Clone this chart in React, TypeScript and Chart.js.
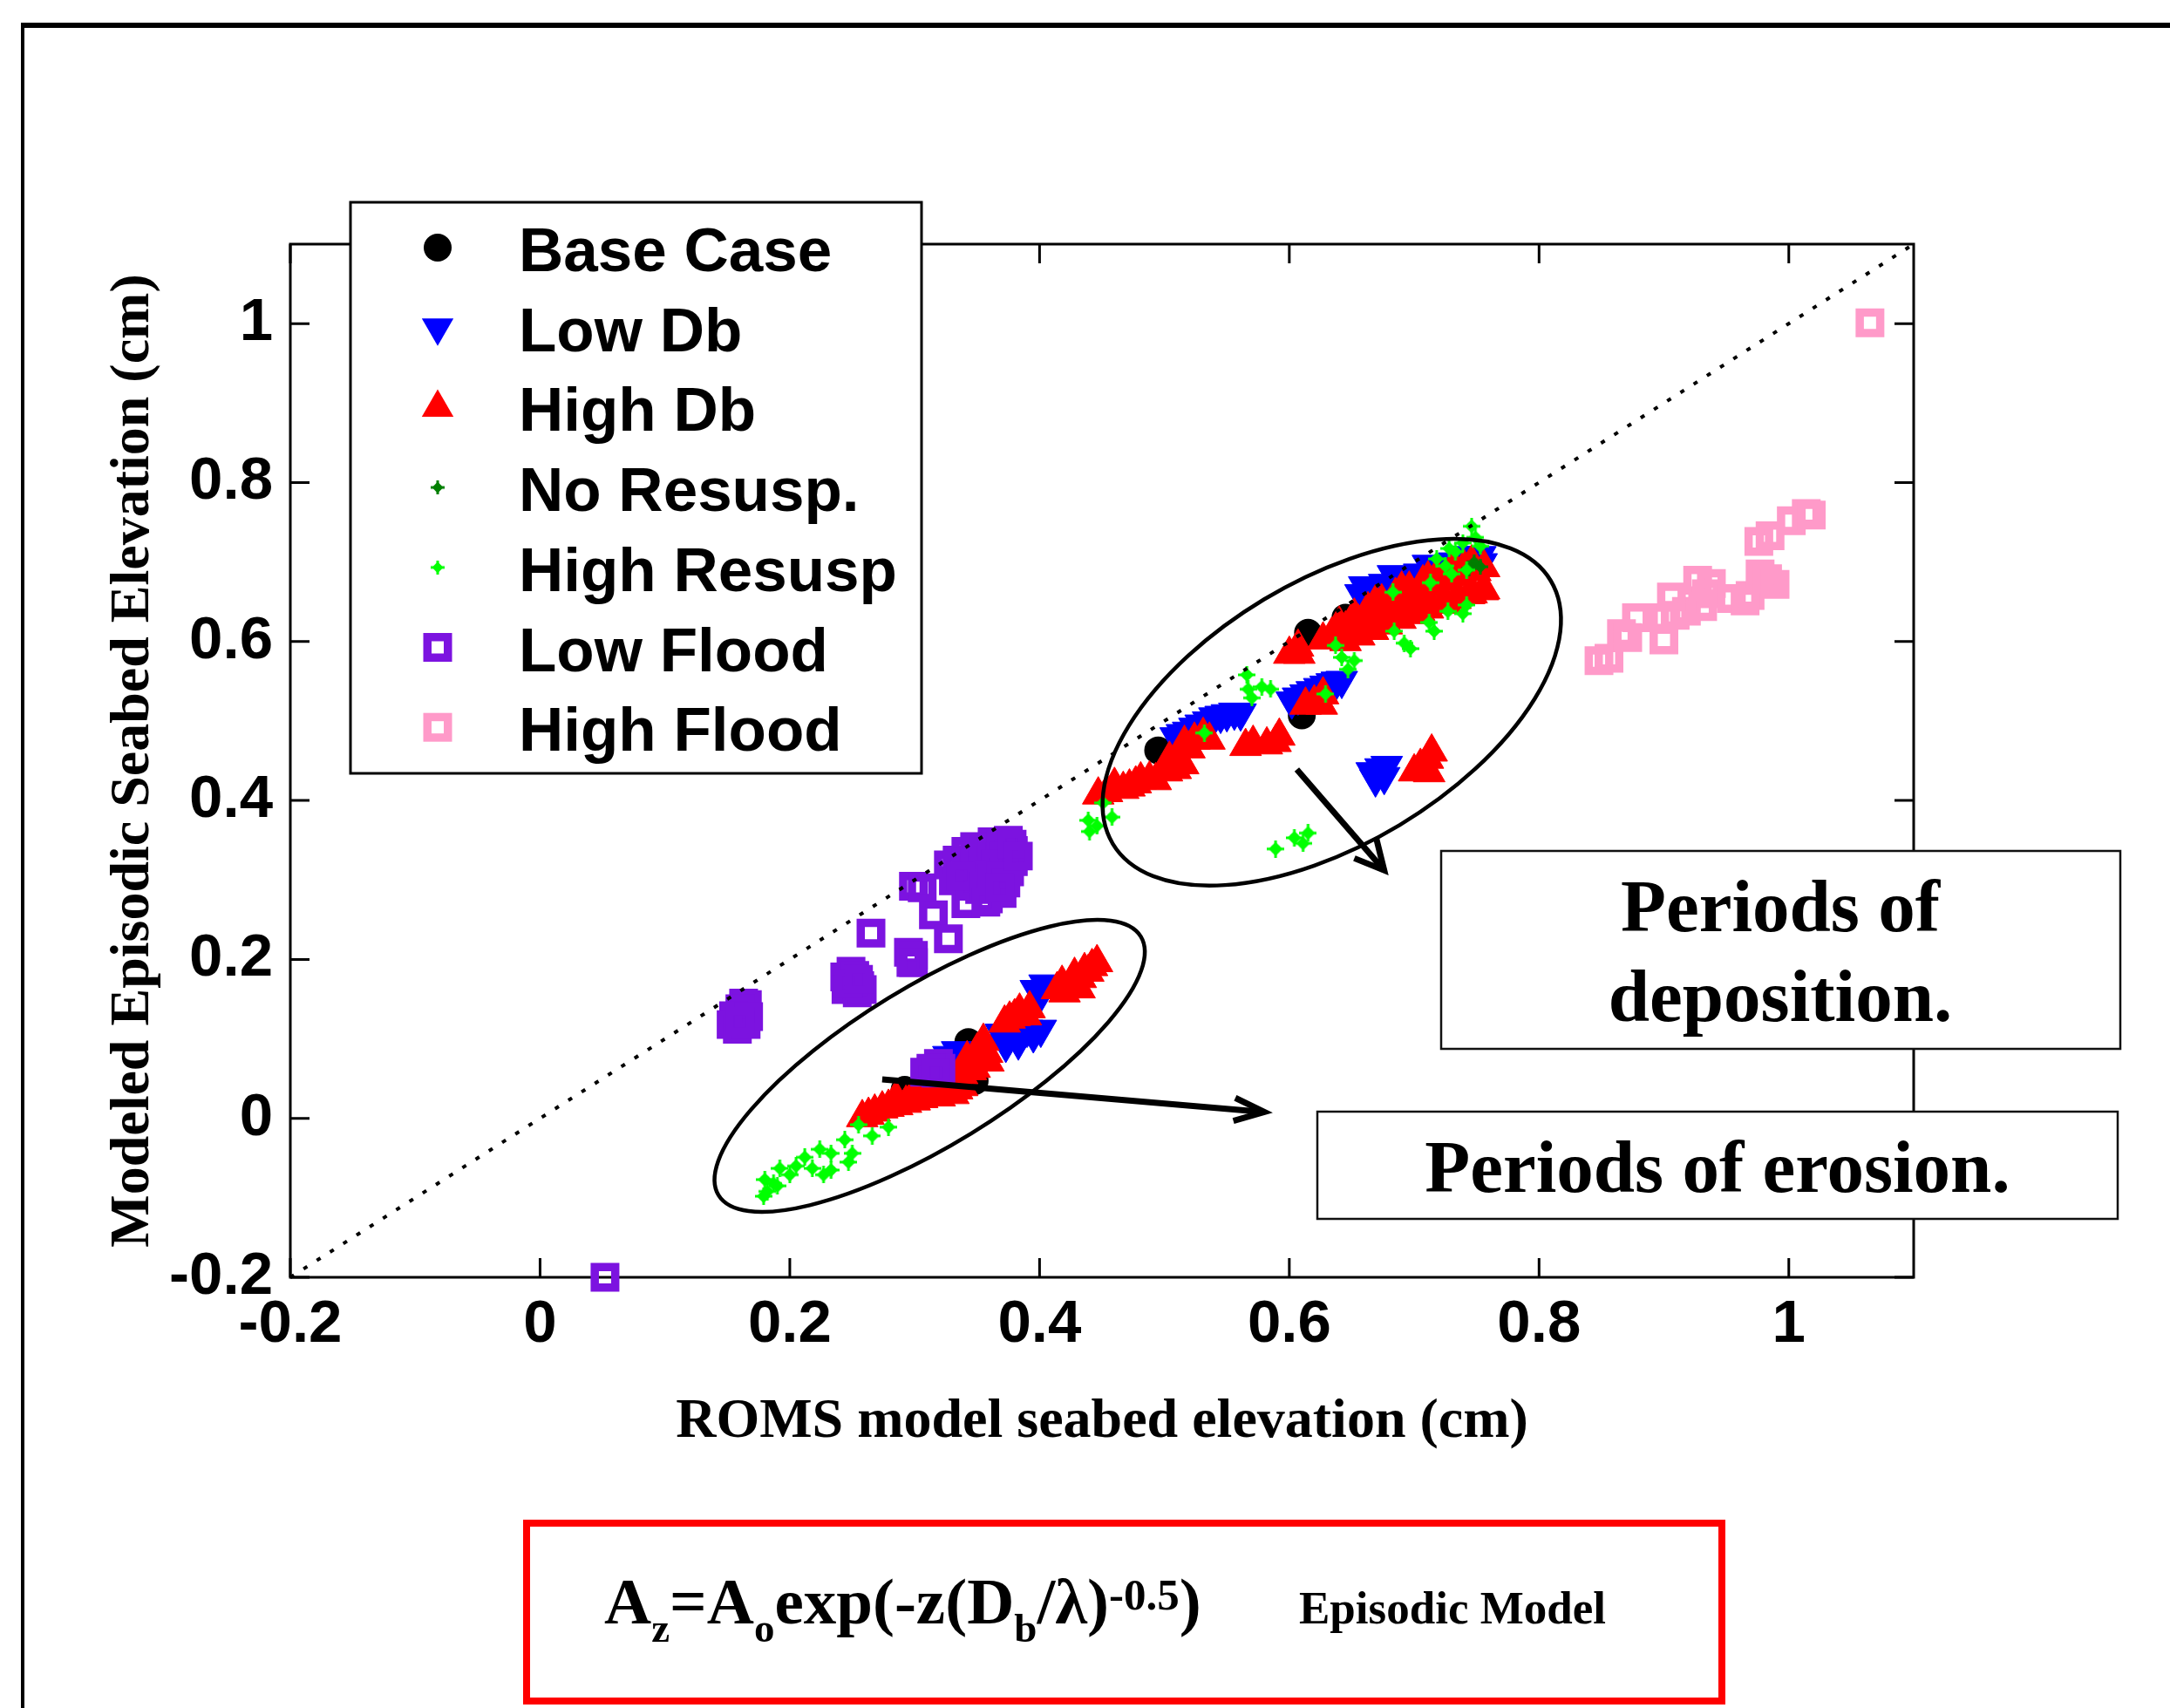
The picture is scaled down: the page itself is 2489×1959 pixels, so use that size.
import React, { useEffect, useRef } from "react";
import { Chart, registerables } from "chart.js";

Chart.register(...registerables);

type P = [number, number];

// ---------- axis ranges / ticks ----------
const X_RANGE: P = [-0.2, 1.1];
const Y_RANGE: P = [-0.2, 1.1];
const TICK_STEP = 0.2;

const xTitle = "ROMS model seabed elevation (cm)";
const yTitle = "Modeled Episodic Seabed Elevation (cm)";

const seriesNames = ["Base Case", "Low Db", "High Db", "No Resusp.", "High Resusp", "Low Flood", "High Flood"];

// ---------- data (x = ROMS, y = Episodic) ----------
const baseCase: P[] = [
  [0.615, 0.611], [0.610, 0.507], [0.495, 0.463], [0.645, 0.630],
  [0.343, 0.096], [0.292, 0.036], [0.348, 0.047], [0.303, 0.036],
];

const lowDb: P[] = [
  [0.657, 0.660], [0.660, 0.670], [0.665, 0.665], [0.676, 0.673], [0.683, 0.684], [0.690, 0.680],
  [0.704, 0.686], [0.711, 0.697], [0.718, 0.693], [0.732, 0.700], [0.739, 0.708], [0.746, 0.704],
  [0.753, 0.708], [0.754, 0.699],
  [0.509, 0.480], [0.514, 0.484], [0.519, 0.487], [0.524, 0.492], [0.529, 0.496], [0.535, 0.500],
  [0.540, 0.505], [0.545, 0.507], [0.550, 0.509], [0.556, 0.511], [0.561, 0.510],
  [0.602, 0.525], [0.607, 0.530], [0.613, 0.534], [0.618, 0.538], [0.624, 0.542], [0.629, 0.545],
  [0.634, 0.548], [0.638, 0.550], [0.642, 0.551],
  [0.666, 0.436], [0.673, 0.441], [0.678, 0.444], [0.669, 0.427], [0.676, 0.430],
  [0.369, 0.107], [0.376, 0.102], [0.380, 0.110], [0.390, 0.112], [0.395, 0.105], [0.401, 0.112],
  [0.383, 0.096], [0.373, 0.093], [0.397, 0.162], [0.404, 0.169], [0.401, 0.156], [0.327, 0.079],
  [0.334, 0.085],
];

const highDb: P[] = [
  [0.447, 0.407], [0.454, 0.410], [0.460, 0.419], [0.467, 0.414], [0.472, 0.417], [0.477, 0.421],
  [0.481, 0.426], [0.488, 0.427], [0.493, 0.425], [0.502, 0.436], [0.505, 0.440], [0.509, 0.439],
  [0.504, 0.452], [0.515, 0.445],
  [0.516, 0.472], [0.520, 0.465], [0.524, 0.476], [0.531, 0.482], [0.536, 0.476],
  [0.565, 0.468], [0.571, 0.472], [0.582, 0.470], [0.589, 0.473], [0.592, 0.481],
  [0.613, 0.520], [0.620, 0.523], [0.627, 0.533], [0.626, 0.520],
  [0.600, 0.584], [0.607, 0.593], [0.608, 0.584],
  [0.627, 0.602], [0.634, 0.608], [0.645, 0.616], [0.655, 0.625], [0.666, 0.633], [0.676, 0.640],
  [0.686, 0.649], [0.697, 0.656], [0.707, 0.662], [0.718, 0.669], [0.728, 0.676], [0.739, 0.682],
  [0.749, 0.688], [0.756, 0.693],
  [0.640, 0.622], [0.652, 0.632], [0.663, 0.640], [0.674, 0.650], [0.685, 0.658], [0.696, 0.666],
  [0.707, 0.674], [0.718, 0.682], [0.729, 0.688], [0.740, 0.693],
  [0.645, 0.600], [0.656, 0.607], [0.667, 0.614], [0.678, 0.621], [0.689, 0.628], [0.700, 0.634],
  [0.711, 0.641], [0.722, 0.647], [0.733, 0.653], [0.744, 0.659], [0.755, 0.664],
  [0.683, 0.633], [0.704, 0.638], [0.725, 0.649], [0.746, 0.660], [0.756, 0.665], [0.666, 0.616],
  [0.669, 0.649], [0.690, 0.666], [0.711, 0.679], [0.732, 0.693], [0.746, 0.699],
  [0.700, 0.436], [0.705, 0.443], [0.711, 0.452], [0.714, 0.461], [0.712, 0.435],
  [0.414, 0.162], [0.418, 0.170], [0.420, 0.158], [0.425, 0.167], [0.428, 0.180], [0.432, 0.163],
  [0.433, 0.176], [0.436, 0.186], [0.439, 0.184], [0.442, 0.191], [0.446, 0.196],
  [0.372, 0.120], [0.376, 0.125], [0.380, 0.128], [0.384, 0.135], [0.389, 0.129], [0.392, 0.138],
  [0.338, 0.055], [0.342, 0.075], [0.345, 0.060], [0.348, 0.063], [0.350, 0.085], [0.352, 0.077],
  [0.354, 0.090], [0.355, 0.097], [0.358, 0.082], [0.359, 0.071],
  [0.258, 0.001], [0.263, 0.004], [0.268, 0.008], [0.274, 0.012], [0.279, 0.014], [0.285, 0.025],
  [0.286, 0.016], [0.293, 0.019], [0.300, 0.022], [0.306, 0.025], [0.312, 0.028], [0.320, 0.027],
  [0.326, 0.032], [0.331, 0.030], [0.334, 0.036], [0.338, 0.040], [0.313, 0.036], [0.299, 0.030],
];

const noResusp: P[] = [
  [0.748, 0.700], [0.753, 0.694], [0.744, 0.692],
];

const highResusp: P[] = [
  [0.746, 0.745], [0.749, 0.731], [0.739, 0.724], [0.728, 0.717], [0.753, 0.720], [0.718, 0.704],
  [0.725, 0.695], [0.733, 0.713], [0.683, 0.662], [0.713, 0.674], [0.730, 0.685], [0.742, 0.690],
  [0.727, 0.638], [0.742, 0.646], [0.739, 0.635], [0.712, 0.624], [0.716, 0.613], [0.684, 0.613],
  [0.692, 0.598], [0.697, 0.591], [0.637, 0.595], [0.642, 0.580], [0.652, 0.576], [0.647, 0.565],
  [0.629, 0.534], [0.566, 0.558], [0.567, 0.540], [0.578, 0.543], [0.585, 0.540], [0.570, 0.529],
  [0.532, 0.485], [0.439, 0.375], [0.440, 0.361], [0.451, 0.397], [0.458, 0.379], [0.446, 0.368],
  [0.589, 0.339], [0.604, 0.353], [0.615, 0.359], [0.611, 0.346],
  [0.255, -0.008], [0.266, -0.022], [0.279, -0.011], [0.244, -0.027], [0.250, -0.044], [0.247, -0.055],
  [0.233, -0.044], [0.224, -0.039], [0.212, -0.049], [0.205, -0.060], [0.218, -0.063], [0.227, -0.071],
  [0.233, -0.065], [0.200, -0.071], [0.192, -0.063], [0.187, -0.082], [0.180, -0.077], [0.182, -0.092],
  [0.179, -0.098], [0.190, -0.085],
];

const lowFlood: P[] = [
  [0.163, 0.145], [0.166, 0.143], [0.160, 0.138], [0.155, 0.129], [0.153, 0.118], [0.158, 0.112],
  [0.165, 0.118], [0.167, 0.128], [0.160, 0.122],
  [0.249, 0.185], [0.244, 0.178], [0.245, 0.162], [0.254, 0.158], [0.258, 0.162], [0.256, 0.167],
  [0.250, 0.172], [0.252, 0.180], [0.247, 0.170], [0.255, 0.175],
  [0.265, 0.233],
  [0.295, 0.209], [0.299, 0.205], [0.297, 0.196], [0.299, 0.196],
  [0.315, 0.256], [0.327, 0.226], [0.299, 0.292], [0.306, 0.290],
  [0.375, 0.350], [0.362, 0.348], [0.348, 0.342], [0.341, 0.336], [0.327, 0.319], [0.334, 0.315],
  [0.355, 0.326], [0.369, 0.331], [0.379, 0.323], [0.379, 0.337], [0.341, 0.270], [0.352, 0.288],
  [0.359, 0.276], [0.366, 0.299], [0.370, 0.283], [0.331, 0.299], [0.348, 0.310], [0.362, 0.315],
  [0.376, 0.310],
  [0.334, 0.325], [0.341, 0.322], [0.348, 0.330], [0.355, 0.336], [0.362, 0.340], [0.369, 0.344],
  [0.372, 0.330], [0.365, 0.320], [0.358, 0.306], [0.351, 0.302], [0.344, 0.292], [0.337, 0.305],
  [0.355, 0.292], [0.362, 0.302], [0.369, 0.305], [0.373, 0.296], [0.357, 0.272], [0.368, 0.290],
  [0.378, 0.345], [0.383, 0.330],
  [0.319, 0.069], [0.321, 0.063], [0.313, 0.063], [0.308, 0.058], [0.317, 0.057],
  [0.052, -0.200],
];

const highFlood: P[] = [
  [0.848, 0.576], [0.856, 0.579], [0.866, 0.610], [0.871, 0.605], [0.878, 0.630], [0.900, 0.602],
  [0.900, 0.630], [0.909, 0.633], [0.918, 0.638], [0.906, 0.656], [0.927, 0.677], [0.938, 0.673],
  [0.934, 0.660], [0.931, 0.644], [0.954, 0.654], [0.969, 0.658], [0.965, 0.651], [0.977, 0.685],
  [0.983, 0.679], [0.989, 0.672], [0.976, 0.726], [0.985, 0.733], [1.002, 0.752], [1.014, 0.761],
  [1.018, 0.759], [1.065, 1.001],
];

const identityLine: P[] = [[-0.2, -0.2], [1.1, 1.1]];

// ---------- annotation text ----------
const depositionLines = ["Periods of", "deposition."];
const erosionText = "Periods of erosion.";
const modelName = "Episodic Model";

// ---------- styles ----------
const SERIF = '"Liberation Serif", "Times New Roman", serif';
const SANS = '"Liberation Sans", Arial, sans-serif';
const C_BLACK = "#000000";
const C_BLUE = "#0000ff";
const C_RED = "#ff0000";
const C_DKGREEN = "#007f00";
const C_GREEN = "#00ff00";
const C_PURPLE = "#7c13e0";
const C_PINK = "#ff9ac9";

function makeDot(color: string, size: number): HTMLCanvasElement {
  const c = document.createElement("canvas");
  c.width = size;
  c.height = size;
  const g = c.getContext("2d")!;
  const m = size / 2;
  const r = size * 0.4;
  g.fillStyle = color;
  g.beginPath();
  g.moveTo(m, m - r);
  g.lineTo(m + r, m);
  g.lineTo(m, m + r);
  g.lineTo(m - r, m);
  g.closePath();
  g.fill();
  g.beginPath();
  g.arc(m, m, size * 0.27, 0, Math.PI * 2);
  g.fill();
  const aw = Math.max(2, Math.round(size * 0.16));
  g.fillRect(m - aw / 2, 0, aw, size);
  g.fillRect(0, m - aw / 2, size, aw);
  return c;
}

const toPts = (a: P[]) => a.map(([x, y]) => ({ x, y }));
const fmt = (v: number) => String(Math.round(v * 10) / 10);

export default function App() {
  const ref = useRef<HTMLCanvasElement>(null);

  useEffect(() => {
    document.body.style.margin = "0";
    document.body.style.overflow = "hidden";
    const canvas = ref.current!;
    const dkDot = makeDot(C_DKGREEN, 18);
    const grDot = makeDot(C_GREEN, 20);
    const dkLeg = makeDot(C_DKGREEN, 16);
    const grLeg = makeDot(C_GREEN, 16);

    const markerKinds = ["circle", "down", "up", "dk", "gr", "sqP", "sqK"];

    const drawMarker = (ctx: CanvasRenderingContext2D, kind: string, x: number, y: number) => {
      const h = 21 * Math.sin(Math.PI / 3);
      ctx.save();
      if (kind === "circle") {
        ctx.fillStyle = C_BLACK;
        ctx.beginPath();
        ctx.arc(x, y, 16, 0, Math.PI * 2);
        ctx.fill();
      } else if (kind === "down" || kind === "up") {
        ctx.fillStyle = kind === "down" ? C_BLUE : C_RED;
        ctx.beginPath();
        if (kind === "down") {
          ctx.moveTo(x, y + 21);
          ctx.lineTo(x - h, y - 10.5);
          ctx.lineTo(x + h, y - 10.5);
        } else {
          ctx.moveTo(x, y - 21);
          ctx.lineTo(x + h, y + 10.5);
          ctx.lineTo(x - h, y + 10.5);
        }
        ctx.closePath();
        ctx.fill();
      } else if (kind === "dk" || kind === "gr") {
        const im = kind === "dk" ? dkLeg : grLeg;
        ctx.drawImage(im, x - im.width / 2, y - im.height / 2);
      } else {
        ctx.strokeStyle = kind === "sqP" ? C_PURPLE : C_PINK;
        ctx.lineWidth = 9.5;
        ctx.strokeRect(x - 11.75, y - 11.75, 23.5, 23.5);
      }
      ctx.restore();
    };

    const arrow = (ctx: CanvasRenderingContext2D, x0: number, y0: number, x1: number, y1: number, spread: number) => {
      const ang = Math.atan2(y0 - y1, x0 - x1);
      const L = 37;
      ctx.beginPath();
      ctx.moveTo(x0, y0);
      ctx.lineTo(x1, y1);
      ctx.stroke();
      ctx.beginPath();
      ctx.moveTo(x1 + L * Math.cos(ang + spread), y1 + L * Math.sin(ang + spread));
      ctx.lineTo(x1, y1);
      ctx.lineTo(x1 + L * Math.cos(ang - spread), y1 + L * Math.sin(ang - spread));
      ctx.stroke();
    };

    const decor = {
      id: "decor",
      beforeDatasetsDraw(chart: any) {
        const { ctx, chartArea: a, scales } = chart;
        const xs = scales.x;
        const ys = scales.y;
        ctx.save();
        ctx.strokeStyle = C_BLACK;
        ctx.lineWidth = 3;
        ctx.strokeRect(a.left, a.top, a.right - a.left, a.bottom - a.top);
        const TL = 22;
        ctx.beginPath();
        xs.ticks.forEach((t: any) => {
          const px = xs.getPixelForValue(t.value);
          ctx.moveTo(px, a.bottom);
          ctx.lineTo(px, a.bottom - TL);
          ctx.moveTo(px, a.top);
          ctx.lineTo(px, a.top + TL);
        });
        ys.ticks.forEach((t: any) => {
          const py = ys.getPixelForValue(t.value);
          ctx.moveTo(a.left, py);
          ctx.lineTo(a.left + TL, py);
          ctx.moveTo(a.right, py);
          ctx.lineTo(a.right - TL, py);
        });
        ctx.stroke();
        ctx.restore();
      },
      afterDraw(chart: any) {
        const { ctx, scales } = chart;
        const xs = scales.x;
        const ys = scales.y;
        const X = (v: number) => xs.getPixelForValue(v);
        const Y = (v: number) => ys.getPixelForValue(v);
        ctx.save();

        // ellipses around the two groups
        ctx.strokeStyle = C_BLACK;
        ctx.lineWidth = 4.5;
        ctx.beginPath();
        ctx.ellipse(X(0.634), Y(0.511), 293, 151, (-31 * Math.PI) / 180, 0, Math.PI * 2);
        ctx.stroke();
        ctx.beginPath();
        ctx.ellipse(X(0.312), Y(0.066), 284, 91, (-31.5 * Math.PI) / 180, 0, Math.PI * 2);
        ctx.stroke();

        // arrows
        ctx.lineWidth = 7;
        ctx.lineCap = "butt";
        ctx.lineJoin = "miter";
        arrow(ctx, X(0.606), Y(0.439), X(0.676), Y(0.312), (27 * Math.PI) / 180);
        arrow(ctx, X(0.274), Y(0.049), X(0.580), Y(0.008), (21 * Math.PI) / 180);

        // annotation boxes
        ctx.fillStyle = "#ffffff";
        ctx.strokeStyle = "#111111";
        ctx.lineWidth = 2.5;
        ctx.fillRect(1653, 976, 779, 227);
        ctx.strokeRect(1653, 976, 779, 227);
        ctx.fillRect(1511, 1275, 918, 123);
        ctx.strokeRect(1511, 1275, 918, 123);
        ctx.fillStyle = C_BLACK;
        ctx.font = `bold 85px ${SERIF}`;
        ctx.textAlign = "center";
        ctx.textBaseline = "alphabetic";
        ctx.fillText(depositionLines[0], 2042, 1068);
        ctx.fillText(depositionLines[1], 2042, 1171);
        ctx.fillText(erosionText, 1970, 1367);

        // legend
        ctx.fillStyle = "#ffffff";
        ctx.fillRect(402, 232, 655, 655);
        ctx.strokeStyle = C_BLACK;
        ctx.lineWidth = 3;
        ctx.strokeRect(402, 232, 655, 655);
        ctx.textAlign = "left";
        ctx.font = `bold 71px ${SANS}`;
        seriesNames.forEach((name, i) => {
          const ry = 284 + i * 91.7;
          drawMarker(ctx, markerKinds[i], 502, ry);
          ctx.fillStyle = C_BLACK;
          ctx.fillText(name, 595, ry + 27);
        });

        // outer frame
        ctx.fillStyle = C_BLACK;
        ctx.fillRect(24, 26, 2489 - 24, 6);
        ctx.fillRect(24, 26, 4, 1959 - 26);

        // formula box
        ctx.strokeStyle = "#ff0000";
        ctx.lineWidth = 8;
        ctx.strokeRect(604, 1747, 1371, 204);
        const main = `bold 75px ${SERIF}`;
        const small = `bold 47px ${SERIF}`;
        const sup = `bold 51px ${SERIF}`;
        const parts: { t: string; f: string; dy: number }[] = [
          { t: "A", f: main, dy: 0 },
          { t: "z", f: small, dy: 21 },
          { t: "=A", f: main, dy: 0 },
          { t: "o", f: small, dy: 21 },
          { t: "exp(-z(D", f: main, dy: 0 },
          { t: "b", f: small, dy: 21 },
          { t: "/\u03bb)", f: main, dy: 0 },
          { t: "-0.5", f: sup, dy: -16 },
          { t: ")", f: main, dy: 0 },
        ];
        let cx = 693;
        const base = 1862;
        ctx.fillStyle = C_BLACK;
        ctx.textAlign = "left";
        parts.forEach((p) => {
          ctx.font = p.f;
          ctx.fillText(p.t, cx, base + p.dy);
          cx += ctx.measureText(p.t).width;
        });
        ctx.font = `bold 53px ${SERIF}`;
        ctx.fillText(modelName, 1490, base);

        ctx.restore();
      },
    };

    const common = { clip: false as const };

    const chart = new Chart(canvas, {
      type: "scatter",
      data: {
        datasets: [
          {
            ...common,
            label: seriesNames[0],
            data: toPts(baseCase),
            pointStyle: "circle",
            pointRadius: 15,
            backgroundColor: C_BLACK,
            borderColor: C_BLACK,
            borderWidth: 2,
            order: 8,
          },
          {
            ...common,
            label: seriesNames[1],
            data: toPts(lowDb),
            pointStyle: "triangle",
            pointRotation: 180,
            pointRadius: 21,
            backgroundColor: C_BLUE,
            borderColor: C_BLUE,
            borderWidth: 1,
            order: 7,
          },
          {
            ...common,
            label: seriesNames[2],
            data: toPts(highDb),
            pointStyle: "triangle",
            pointRadius: 21,
            backgroundColor: C_RED,
            borderColor: C_RED,
            borderWidth: 1,
            order: 6,
          },
          {
            ...common,
            label: seriesNames[3],
            data: toPts(noResusp),
            pointStyle: dkDot,
            pointRadius: 9,
            backgroundColor: C_DKGREEN,
            borderColor: C_DKGREEN,
            order: 5,
          },
          {
            ...common,
            label: seriesNames[4],
            data: toPts(highResusp),
            pointStyle: grDot,
            pointRadius: 10,
            backgroundColor: C_GREEN,
            borderColor: C_GREEN,
            order: 4,
          },
          {
            ...common,
            label: seriesNames[5],
            data: toPts(lowFlood),
            pointStyle: "rect",
            pointRadius: 16.6,
            backgroundColor: "rgba(0,0,0,0)",
            borderColor: C_PURPLE,
            borderWidth: 9.5,
            order: 3,
          },
          {
            ...common,
            label: seriesNames[6],
            data: toPts(highFlood),
            pointStyle: "rect",
            pointRadius: 16.6,
            backgroundColor: "rgba(0,0,0,0)",
            borderColor: C_PINK,
            borderWidth: 9.5,
            order: 2,
          },
          {
            ...common,
            label: "1:1",
            data: toPts(identityLine),
            showLine: true,
            pointRadius: 0,
            borderColor: C_BLACK,
            borderWidth: 4,
            borderDash: [5, 13],
            order: 1,
          } as any,
        ],
      },
      options: {
        responsive: false,
        animation: false,
        devicePixelRatio: 1,
        events: [],
        layout: { padding: { left: 0, top: 280, right: 294, bottom: 0 } },
        plugins: { legend: { display: false }, tooltip: { enabled: false } },
        scales: {
          x: {
            type: "linear",
            min: X_RANGE[0],
            max: X_RANGE[1],
            grid: { display: false, drawTicks: false },
            border: { display: false },
            ticks: {
              stepSize: TICK_STEP,
              includeBounds: false,
              autoSkip: false,
              maxRotation: 0,
              padding: 20,
              color: C_BLACK,
              font: { family: SANS, size: 69, weight: "bold", lineHeight: 1 },
              callback: (v: any) => fmt(Number(v)),
            },
            title: {
              display: true,
              text: xTitle,
              color: C_BLACK,
              font: { family: SERIF, size: 64, weight: "bold", lineHeight: 1 },
              padding: { top: 0, bottom: 296 },
            },
            afterFit: (s: any) => {
              s.height = 494;
            },
          },
          y: {
            type: "linear",
            min: Y_RANGE[0],
            max: Y_RANGE[1],
            grid: { display: false, drawTicks: false },
            border: { display: false },
            ticks: {
              stepSize: TICK_STEP,
              includeBounds: false,
              autoSkip: false,
              padding: 20,
              color: C_BLACK,
              font: { family: SANS, size: 69, weight: "bold", lineHeight: 1 },
              callback: (v: any) => fmt(Number(v)),
            },
            title: {
              display: true,
              text: yTitle,
              color: C_BLACK,
              font: { family: SERIF, size: 64, weight: "bold", lineHeight: 1 },
              padding: { top: 121, bottom: 0 },
            },
            afterFit: (s: any) => {
              s.width = 333;
            },
          },
        },
      } as any,
      plugins: [decor],
    });

    return () => chart.destroy();
  }, []);

  return <canvas ref={ref} width={2489} height={1959} style={{ display: "block", width: 2489, height: 1959 }} />;
}
